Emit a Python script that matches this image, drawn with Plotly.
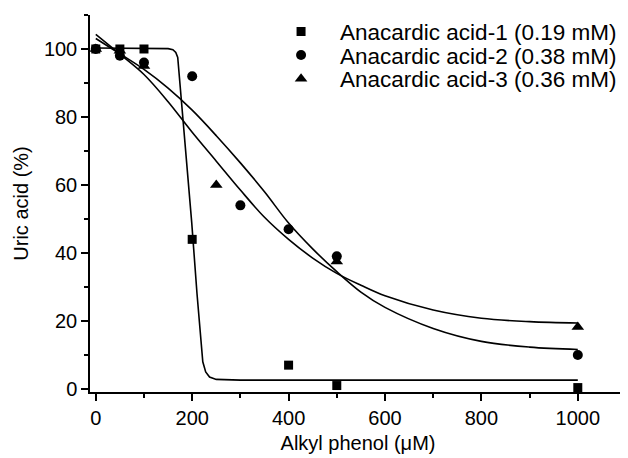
import plotly.graph_objects as go

# measured points
x_aa1 = [0, 50, 100, 200, 400, 500, 1000]
y_aa1 = [100, 100, 100, 44, 7, 1, 0.4]
x_aa2 = [0, 50, 100, 200, 300, 400, 500, 1000]
y_aa2 = [100, 98, 96, 92, 54, 47, 39, 10]
x_aa3 = [0, 50, 100, 250, 500, 1000]
y_aa3 = [100, 99.5, 95, 60, 37.5, 18.2]

# fitted curves
fit1_x = [0, 150, 160, 166, 170, 177, 183, 199, 210, 218, 222, 228, 236, 250, 300, 1000]
fit1_y = [100.3, 100.1, 99.8, 99, 97.5, 86, 76, 49, 28, 14, 8, 5, 3.5, 2.8, 2.6, 2.6]
fit2_x = [0, 50, 100, 150, 200, 250, 300, 350, 400, 450, 500, 550, 600, 700, 800, 900, 1000]
fit2_y = [103.1, 98.6, 94, 88.5, 82, 74.5, 66.5, 58, 48.8, 41.2, 34.5, 28.5, 24, 17.8, 14, 12.3, 11.6]
fit3_x = [0, 50, 100, 150, 200, 250, 300, 350, 400, 450, 500, 550, 600, 700, 800, 900, 1000]
fit3_y = [104.3, 98.5, 92.5, 84.5, 75.5, 67, 58.5, 50.5, 44, 38.5, 34, 30.5, 27.4, 23.2, 20.8, 19.8, 19.4]

names = ["Anacardic acid-1 (0.19 mM)", "Anacardic acid-2 (0.38 mM)", "Anacardic acid-3 (0.36 mM)"]

fig = go.Figure()

line = dict(color='black', width=1.6)
fig.add_trace(go.Scatter(x=fit1_x, y=fit1_y, mode='lines', line=line, showlegend=False))
fig.add_trace(go.Scatter(x=fit2_x, y=fit2_y, mode='lines', line=dict(line, shape='spline'), showlegend=False))
fig.add_trace(go.Scatter(x=fit3_x, y=fit3_y, mode='lines', line=dict(line, shape='spline'), showlegend=False))

fig.add_trace(go.Scatter(x=x_aa1, y=y_aa1, mode='markers', name=names[0], legend='legend',
                         marker=dict(symbol='square', size=9, color='black')))
fig.add_trace(go.Scatter(x=x_aa2, y=y_aa2, mode='markers', name=names[1], legend='legend2',
                         marker=dict(symbol='circle', size=10, color='black')))
fig.add_trace(go.Scatter(x=x_aa3, y=y_aa3, mode='markers', name=names[2], legend='legend3',
                         marker=dict(symbol='triangle-up', size=11, color='black')))

# one legend per row so the rows sit as close as in the original
leg = dict(x=0.321, xanchor='left', yanchor='middle', bgcolor='rgba(0,0,0,0)',
           itemwidth=68, font=dict(size=22.5))

# page has an 8px body margin, so the figure is drawn 8px smaller
fig.update_layout(
    width=620, height=450,
    paper_bgcolor='white', plot_bgcolor='white',
    margin=dict(l=82, r=2, t=7, b=66, autoexpand=False),
    font=dict(family='Liberation Sans, Arial, sans-serif', size=20, color='black'),
    legend=dict(leg, y=0.955),
    legend2=dict(leg, y=0.893),
    legend3=dict(leg, y=0.830),
)

fig.update_xaxes(
    range=[-12, 1100], showgrid=False, zeroline=False,
    showline=True, linecolor='black', linewidth=1.5,
    ticks='outside', ticklen=7, tickwidth=1.5, tickcolor='black',
    tickvals=[0, 200, 400, 600, 800, 1000], tickfont=dict(size=20),
    minor=dict(ticks='outside', ticklen=4, tickwidth=1.5, tickcolor='black', dtick=100, tick0=0),
    title=dict(text='Alkyl phenol (μM)', standoff=8, font=dict(size=20)),
)
fig.update_yaxes(
    range=[-0.9, 110], showgrid=False, zeroline=False,
    showline=True, linecolor='black', linewidth=1.5,
    ticks='outside', ticklen=7, tickwidth=1.5, tickcolor='black',
    tickvals=[0, 20, 40, 60, 80, 100], tickfont=dict(size=20),
    minor=dict(ticks='outside', ticklen=4, tickwidth=1.5, tickcolor='black', dtick=10, tick0=0),
    title=dict(text='Uric acid (%)', standoff=10, font=dict(size=20)),
)

fig.write_html("out.html")
